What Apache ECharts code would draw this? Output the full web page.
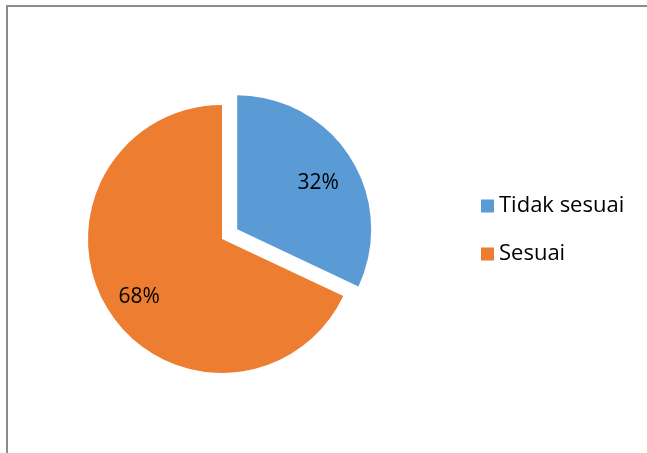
<!DOCTYPE html>
<html>
<head>
<meta charset="utf-8">
<script src="https://cdn.jsdelivr.net/npm/echarts@6/dist/echarts.min.js"></script>
<style>
  html, body { margin: 0; padding: 0; background: #fff; }
  #chart { width: 647px; height: 453px; }
</style>
</head>
<body>
<div id="chart"></div>
<script>
// data
const categories = ['Tidak sesuai', 'Sesuai']
const values = [32, 68]
const colors = ['#5B9BD5', '#ED7D31']

const font = '"Open Sans", sans-serif'

const pieData = categories.map((name, i) => ({
  name: name,
  value: values[i],
  selected: i === 0,
  itemStyle: { color: colors[i] }
}))

const chart = echarts.init(document.getElementById('chart'))

chart.setOption({
  animation: false,
  legend: {
    orient: 'vertical',
    left: 481,
    top: 195,
    padding: 0,
    itemWidth: 13,
    itemHeight: 13,
    itemGap: 26,
    icon: 'rect',
    textStyle: { fontFamily: font, fontSize: 22, lineHeight: 22, color: '#000' },
    data: categories
  },
  graphic: [{
    type: 'polyline',
    shape: { points: [[7, 460], [7, 6], [660, 6]] },
    style: { stroke: '#8c8c8c', lineWidth: 2, fill: null },
    silent: true
  }],
  series: [
    {
      type: 'pie',
      center: [222, 239],
      radius: 134,
      startAngle: 90,
      clockwise: true,
      selectedMode: 'single',
      selectedOffset: 18,
      label: { show: false },
      labelLine: { show: false },
      emphasis: { disabled: true },
      data: pieData
    },
    {
      // transparent ring only to place the percentage labels at ~0.7 r
      type: 'pie',
      center: [221, 245],
      radius: [54, 134],
      startAngle: 90,
      clockwise: true,
      selectedMode: 'single',
      selectedOffset: 18,
      silent: true,
      itemStyle: { color: 'transparent' },
      label: {
        show: true,
        position: 'inside',
        formatter: '{d}%',
        fontFamily: font,
        fontSize: 21,
        color: '#000'
      },
      labelLine: { show: false },
      data: categories.map((name, i) => ({ name: name, value: values[i], selected: i === 0 }))
    }
  ]
})
</script>
</body>
</html>
